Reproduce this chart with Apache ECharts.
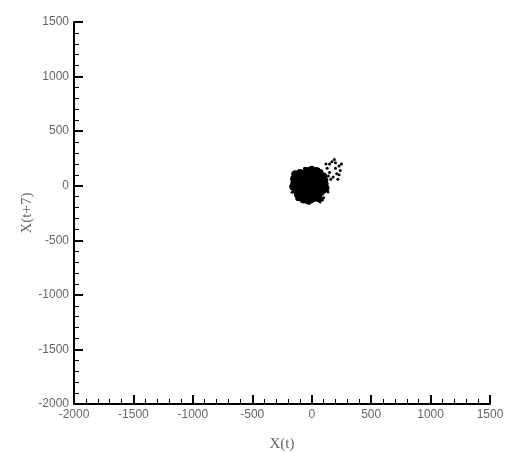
<!DOCTYPE html>
<html>
<head>
<meta charset="utf-8">
<script src="https://cdn.jsdelivr.net/npm/echarts@6/dist/echarts.min.js"></script>
<style>
  html, body { margin: 0; padding: 0; background: #fff; }
  #chart { width: 512px; height: 453px; }
</style>
</head>
<body>
<div id="chart"></div>
<script>
// lag plot: X(t) against X(t+7)
var coreXY = [
  [-20,0],[10,20],[-50,30],[-80,-10],[40,-30],[-30,-60],[20,60],[-60,80],[60,40],[70,-10],
  [-110,20],[-100,-50],[0,-100],[-50,-100],[40,-80],[80,80],[-20,110],[30,120],[-90,90],[-130,0],
  [-120,50],[90,20],[100,-40],[60,-90],[-10,-130],[-70,-80],[-40,140],[0,150],[50,100],[-150,30],
  [-140,-40],[-150,70],[-100,120],[20,-60],[-10,40],[-40,-20],[10,-20],[30,10],[-70,20],[-60,-40],
  [50,0],[-30,70],[80,-60],[-80,40],[20,90],[-120,-80],[-30,-140],[10,-120],[110,50],[120,-20],
  [-100,-10],[-50,10],[0,80],[-10,-70],[70,120],[-160,-10],[-90,-110],[30,-110],[-130,90],[100,90],
  [-60,120],[40,140],[-110,-110],[-70,-130],[60,-120],[110,10],[-140,110],[-40,-100]
];
var outerXY = [
  [130,160],[150,200],[170,220],[200,210],[230,180],[240,140],[210,110],[180,80],[150,120],[200,160],
  [230,100],[160,60],[120,200],[190,240],[250,200],[140,90],[220,60],[137,-58],[70,-150],[90,-130],
  [-160,110],[-170,60],[-165,-60],[100,-110],[130,20],[-60,160],[60,150],[-20,-160]
];
var axisMin = -2000;
var axisMax = 1500;
var axisStep = 500;

var chart = echarts.init(document.getElementById('chart'));

function makeAxis(name, gap) {
  return {
    type: 'value',
    min: axisMin,
    max: axisMax,
    interval: axisStep,
    name: name,
    nameLocation: 'middle',
    nameGap: gap,
    nameMoveOverlap: false,
    nameTextStyle: { fontFamily: 'Liberation Serif', fontSize: 15, color: '#666' },
    axisLine: { onZero: false, lineStyle: { color: '#000', width: 2 } },
    axisTick: { inside: true, length: 9, lineStyle: { color: '#000', width: 2 } },
    minorTick: { show: true, splitNumber: 5, length: 5, lineStyle: { color: '#000', width: 1 } },
    axisLabel: {
      color: '#666', fontSize: 12, fontFamily: 'Liberation Sans', margin: 5,
      formatter: function (v) { return String(v); }
    },
    splitLine: { show: false }
  };
}

chart.setOption({
  animation: false,
  grid: { left: 74, right: 22, top: 22, bottom: 49, outerBoundsMode: 'none' },
  xAxis: makeAxis('X(t)', 33),
  yAxis: makeAxis('X(t+7)', 39),
  series: [
    {
      type: 'scatter',
      data: coreXY,
      symbolSize: 7,
      itemStyle: { color: '#000', opacity: 1 }
    },
    {
      type: 'scatter',
      data: outerXY,
      symbolSize: 3,
      itemStyle: { color: '#000', opacity: 1 }
    }
  ]
});
</script>
</body>
</html>
